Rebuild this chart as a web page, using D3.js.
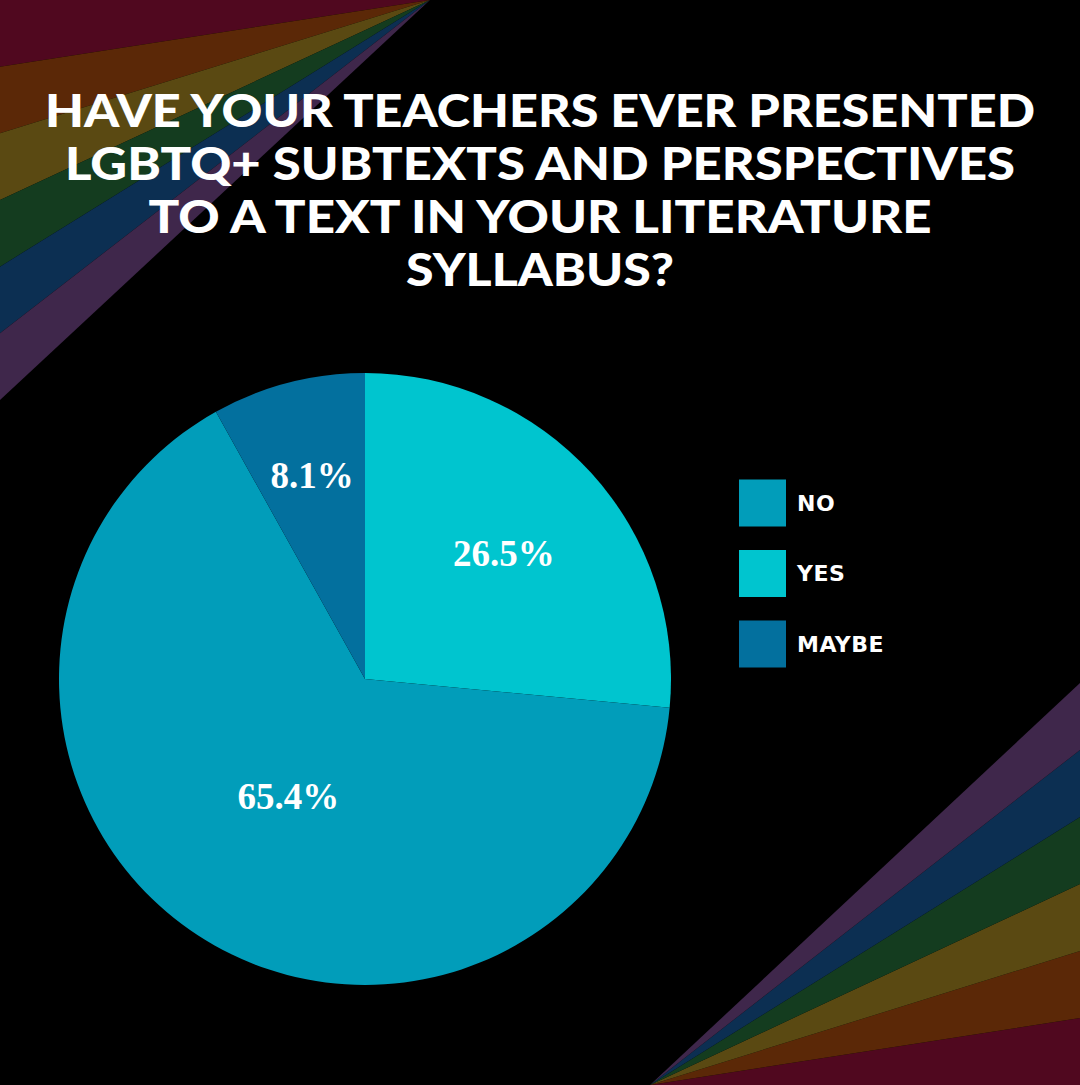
<!DOCTYPE html>
<html>
<head>
<meta charset="utf-8">
<script src="https://cdn.jsdelivr.net/npm/d3@7"></script>
<style>
  body { margin: 0; background: #000; }
  svg { display: block; }
</style>
</head>
<body>
<svg id="chart" width="1080" height="1085"></svg>
<script>
// chart data
var sliceLabels = ["YES", "NO", "MAYBE"];
var sliceValues = [26.5, 65.4, 8.1];
var sliceColors = ["#00c5cf", "#019dba", "#03709e"];
var legendOrder = ["NO", "YES", "MAYBE"];
var titleLines = ["HAVE YOUR TEACHERS EVER PRESENTED",
                  "LGBTQ+ SUBTEXTS AND PERSPECTIVES",
                  "TO A TEXT IN YOUR LITERATURE",
                  "SYLLABUS?"];
var titleWidths = [990, 950, 783, 268];

// rainbow corner stripes, top to bottom on the left edge
var rainbow = ["#50081f", "#5b2807", "#5a4912", "#143c1f", "#0c2f52", "#3f274b"];

var W = 1080, H = 1085;
var svg = d3.select("#chart");

svg.append("rect").attr("width", W).attr("height", H).attr("fill", "#000");

//Draw the two fans of stripes
var leftEdge = d3.scaleLinear().domain([0, rainbow.length]).range([0, 400]);
var rightEdge = d3.scaleLinear().domain([0, rainbow.length]).range([683, 1085]);

function pts(list) {
    return list.map(function(p) { return p.join(","); }).join(" ");
}

rainbow.forEach(function(c, i) {
    svg.append("polygon")
        .attr("points", pts([[430, 0], [0, leftEdge(i)], [0, leftEdge(i + 1)]]))
        .attr("fill", c);
    var j = rainbow.length - 1 - i;
    svg.append("polygon")
        .attr("points", pts([[650, 1085], [W, rightEdge(j)], [W, rightEdge(j + 1)]]))
        .attr("fill", c);
});

//Title
var title = svg.append("g");
titleLines.forEach(function(line, i) {
    title.append("text")
        .attr("x", W / 2)
        .attr("y", 127 + i * 53)
        .attr("text-anchor", "middle")
        .attr("textLength", titleWidths[i])
        .attr("lengthAdjust", "spacingAndGlyphs")
        .attr("font-family", "Lato, 'Open Sans', sans-serif")
        .attr("font-weight", 900)
        .attr("font-size", 45)
        .attr("fill", "#fff")
        .text(line);
});

//Pie
var cx = 365, cy = 679, radius = 306;
var total = d3.sum(sliceValues);
var color = d3.scaleOrdinal().domain(sliceLabels).range(sliceColors);
var pie = d3.pie().sort(null).value(function(d) { return d.value; });
var arc = d3.arc().innerRadius(0).outerRadius(radius);

var pieData = pie(sliceLabels.map(function(l, i) { return {label: l, value: sliceValues[i]}; }));

//Narrow slices get their label pushed further out
function labelPos(d) {
    var r = radius * (0.72 - 0.4 * d.data.value / total);
    return d3.arc().innerRadius(r).outerRadius(r).centroid(d);
}

var g = svg.append("g").attr("transform", "translate(" + cx + "," + cy + ")");
g.selectAll("path.slice")
    .data(pieData)
    .enter().append("path")
    .attr("class", "slice")
    .attr("d", arc)
    .attr("fill", function(d) { return color(d.data.label); });

g.selectAll("text.pct")
    .data(pieData)
    .enter().append("text")
    .attr("class", "pct")
    .attr("transform", function(d) { return "translate(" + labelPos(d) + ")"; })
    .attr("text-anchor", "middle")
    .attr("dy", "0.35em")
    .attr("font-family", "'Liberation Serif', serif")
    .attr("font-weight", "bold")
    .attr("font-size", 37)
    .attr("fill", "#fff")
    .text(function(d) { return d.data.value.toFixed(1) + "%"; });

//Legend
var legendY = d3.scalePoint().domain(legendOrder).range([503, 644]);
var legend = svg.append("g");
legendOrder.forEach(function(l) {
    legend.append("rect")
        .attr("x", 739)
        .attr("y", legendY(l) - 23.5)
        .attr("width", 47)
        .attr("height", 47)
        .attr("fill", color(l));
    legend.append("text")
        .attr("x", 797)
        .attr("y", legendY(l))
        .attr("dy", "0.36em")
        .attr("font-family", "'DejaVu Sans', sans-serif")
        .attr("font-weight", "bold")
        .attr("font-size", 22)
        .attr("letter-spacing", 0.5)
        .attr("fill", "#fff")
        .text(l);
});
</script>
</body>
</html>
